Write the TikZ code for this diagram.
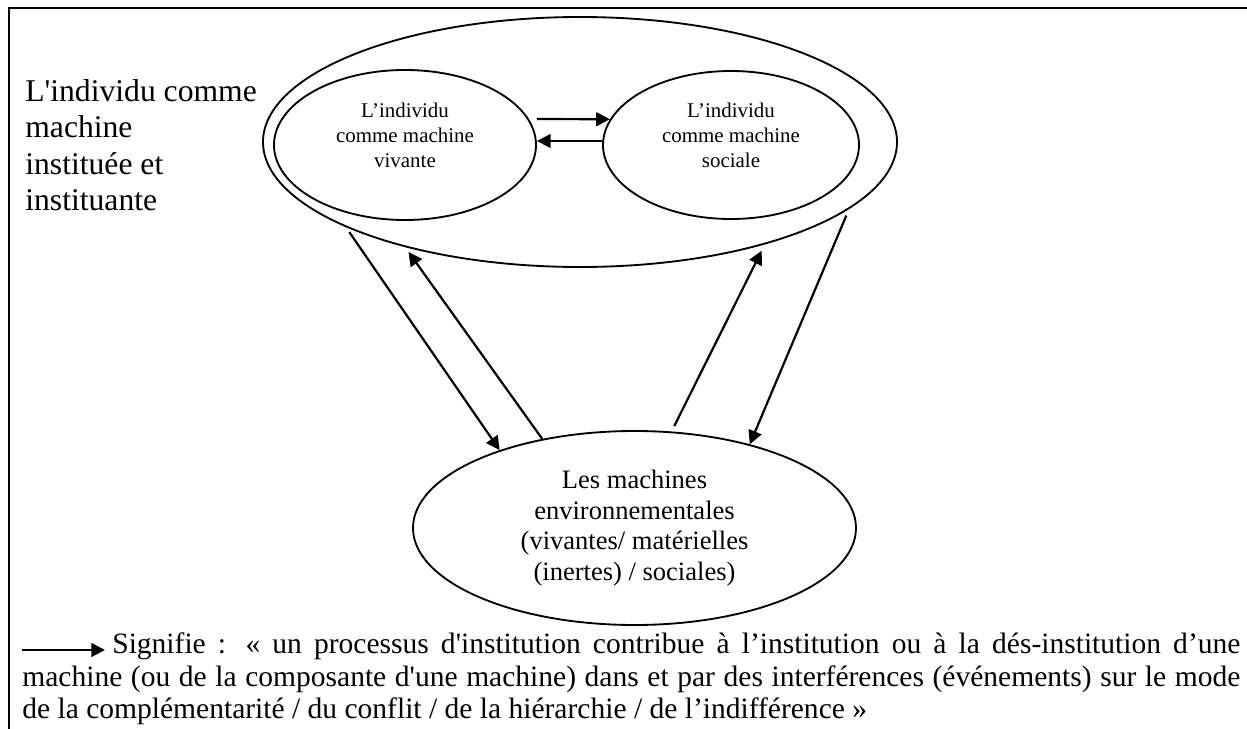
\documentclass[tikz,border=0pt]{standalone}
\usepackage{fontspec}
\setmainfont{Liberation Serif}[Ligatures=TeXOff]
\usetikzlibrary{shapes.geometric, arrows.meta}

\begin{document}
\begin{tikzpicture}[
		machine/.style={draw, ellipse, line width=1.05pt, inner sep=0pt, align=center},
		petit/.style={inner sep=0pt, align=center, font=\fontsize{11.9}{14.2}\selectfont},
		fleche/.style={line width=1.25pt, -{Triangle[length=7.8pt, width=7.8pt]}}
	]
	\useasboundingbox (0, 0) rectangle (24.94, -14.58);

	% cadre
	\draw[line width=1.4pt] (24.94, -0.16) -- (0.18, -0.16) -- (0.18, -14.58);

	\node[anchor=north west, inner sep=0pt, align=left, font=\fontsize{18}{20.8}\selectfont] (label_indiv) at (0.5, -1.58)
		{L'individu comme\\machine\\instituée et\\instituante};

	\node[machine, minimum width=12.68cm, minimum height=5.00cm] (outer)   at (11.60,  -2.84) {};
	\node[machine, minimum width=5.24cm,  minimum height=3.00cm] (vivante) at ( 8.10,  -2.90) {};
	\node[machine, minimum width=5.12cm,  minimum height=2.96cm] (sociale) at (14.62,  -2.90) {};
	\node[machine, minimum width=8.86cm,  minimum height=3.88cm, font=\fontsize{15.1}{17.4}\selectfont] (envir)   at (12.69, -10.56)
		{Les machines\\environnementales\\(vivantes/ matérielles\\(inertes) / sociales)};

	\node[petit] (vivante_txt) at ([yshift=0.2cm]vivante.center) {L’individu\\comme machine\\vivante};
	\node[petit] (sociale_txt) at ([yshift=0.2cm]sociale.center) {L’individu\\comme machine\\sociale};

	\draw[fleche] ([yshift=0.52cm]vivante.east) -- (sociale.168);
	\draw[fleche] ([yshift=0.08cm]sociale.west) -- ([yshift=0.08cm]vivante.east);

	\draw[fleche, shorten <=3.4pt]                  (outer.200) -- (envir.150);
	\draw[fleche, shorten >=3.4pt]                  (envir.136) -- (outer.211);
	\draw[fleche, shorten <=3.4pt, shorten >=4pt]   (envir.69)  -- (outer.331);
	\draw[fleche, shorten <=4pt]                    (outer.346) -- (envir.36);

	% legende
	\coordinate (legA) at (0.44, -13.0);
	\coordinate (legB) at (2.10, -13.0);
	\draw[fleche] (legA) -- (legB);

	\node[anchor=north west, inner sep=0pt, align=left, font=\fontsize{16.8}{18.7}\selectfont] (legende) at (0.44, -12.64)
		{\hspace*{1.8cm}\makebox[22.56cm][s]{Signifie : « un processus d'institution contribue à l’institution ou à la dés-institution d’une}\\
		 \makebox[24.36cm][s]{machine (ou de la composante d'une machine) dans et par des interférences (événements) sur le mode}\\
		 de la complémentarité / du conflit / de la hiérarchie / de l’indifférence »};
\end{tikzpicture}
\end{document}
